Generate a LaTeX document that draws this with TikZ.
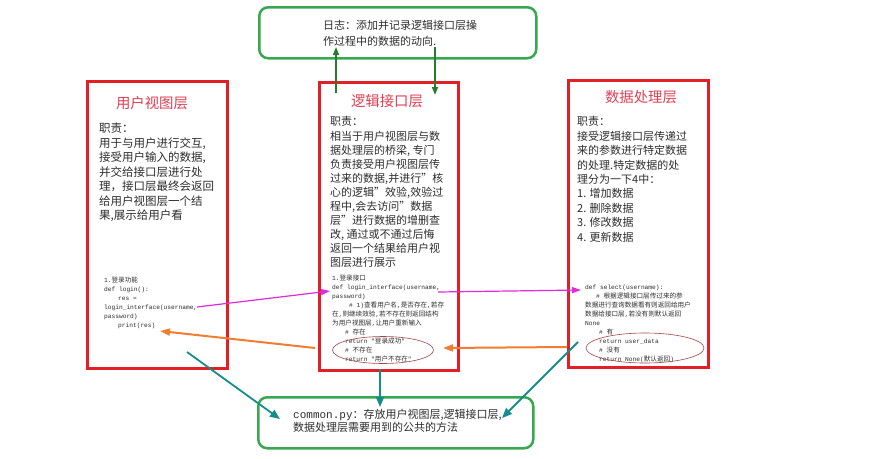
\documentclass[tikz,border=0pt]{standalone}
\usepackage{fontspec}
\setmainfont{Noto Sans CJK SC}
\newfontfamily\cjk{Noto Sans CJK SC}
\newfontfamily\mono{Liberation Mono}
\usetikzlibrary{arrows.meta,shapes.geometric}
\definecolor{boxred}{RGB}{226,30,38}
\definecolor{titlered}{RGB}{222,64,84}
\definecolor{boxgreen}{RGB}{56,168,80}
\definecolor{arrgreen}{RGB}{40,125,45}
\definecolor{mag}{RGB}{228,40,220}
\definecolor{orng}{RGB}{240,125,50}
\definecolor{tealc}{RGB}{22,140,140}
\definecolor{txt}{RGB}{45,45,45}
\definecolor{ellred}{RGB}{165,70,70}
\newcommand\zh[1]{{\cjk\fontsize{6.6}{9}\selectfont #1}}
\begin{document}
\begin{tikzpicture}[x=1pt,y=-1pt,
  redbox/.style={draw=boxred,line width=2.7pt,inner sep=0pt,anchor=north west},
  greenbox/.style={draw=boxgreen,line width=2.5pt,rounded corners=9pt,inner sep=0pt,anchor=north west},
  title/.style={text=titlered,font=\fontsize{14.4}{16}\selectfont,inner sep=0pt},
  body/.style={text=txt,align=left,inner sep=0pt,anchor=north west},
  code/.style={text=txt,align=left,inner sep=0pt,anchor=north west,font=\mono\fontsize{6.2}{9}\selectfont},
  ell/.style={draw=ellred,line width=0.6pt,ellipse},
  garr/.style={draw=arrgreen,line width=1.5pt,-{Triangle[length=8pt,width=6pt]}},
  marr/.style={draw=mag,line width=1.2pt,-{Triangle[length=9pt,width=6pt]}},
  oarr/.style={draw=orng,line width=2pt,-{Triangle[length=10pt,width=7pt]}},
  tarr/.style={draw=tealc,line width=1.8pt,-{Triangle[length=10pt,width=8pt]}}
]
\useasboundingbox[fill=white] (0,0) rectangle (888,458);

% boxes
\node[redbox,minimum width=140pt,minimum height=287pt] (uv) at (86,80) {};
\node[redbox,minimum width=139pt,minimum height=288pt] (lj) at (318,81) {};
\node[redbox,minimum width=140pt,minimum height=287pt] (sj) at (567,79) {};
\node[greenbox,minimum width=277pt,minimum height=51pt] (log) at (258,6) {};
\node[greenbox,minimum width=275pt,minimum height=51pt] (com) at (257,396) {};

% titles
\node[title] (uvt) at (152,103) {用户视图层};
\node[title] (ljt) at (387,101) {逻辑接口层};
\node[title] (sjt) at (641,97) {数据处理层};

% body texts
\node[body,font=\fontsize{11.5}{14.5}\selectfont] (uvb) at (99,123) {职责：\\用于与用户进行交互,\\接受用户输入的数据,\\并交给接口层进行处\\理，接口层最终会返回\\给用户视图层一个结\\果,展示给用户看};
\node[body,font=\fontsize{11}{14.1}\selectfont] (ljb) at (330,116.5) {职责：\\相当于用户视图层与数\\据处理层的桥梁, 专门\\负责接受用户视图层传\\过来的数据,并进行”核\\心的逻辑”效验,效验过\\程中,会去访问”数据\\层”进行数据的增删查\\改, 通过或不通过后悔\\返回一个结果给用户视\\图层进行展示};
\node[body,font=\fontsize{11}{14.4}\selectfont] (sjb) at (577,116.5) {职责：\\接受逻辑接口层传递过\\来的参数进行特定数据\\的处理.特定数据的处\\理分为一下4中：\\1. 增加数据\\2. 删除数据\\3. 修改数据\\4. 更新数据};

% code texts
\node[code] (uvc) at (104,277) {1.\zh{登录功能}\\def login():\\\hspace*{14pt}res =\\login\_interface(username,\\password)\\\hspace*{14pt}print(res)};
\node[code] (ljc) at (332,275) {1.\zh{登录接口}\\def login\_interface(username,\\password)\\\hspace*{17pt}\# 1)\zh{查看用户名},\zh{是否存在},\zh{若存}\\\zh{在},\zh{则继续效验},\zh{若不存在则返回结构}\\\zh{为用户视图层},\zh{让用户重新输入}\\\hspace*{13pt}\# \zh{存在}\\\hspace*{13pt}return "\zh{登录成功}"\\\hspace*{13pt}\# \zh{不存在}\\\hspace*{13pt}return "\zh{用户不存在}"};
\node[code] (sjc) at (585,284.5) {def select(username):\\\hspace*{11pt}\# \zh{根据逻辑接口层传过来的参}\\\zh{数据进行查询数据看有则返回给用户}\\\zh{数据给接口层},\zh{若没有则默认返回}\\None\\\hspace*{14pt}\# \zh{有}\\\hspace*{14pt}return user\_data\\\hspace*{14pt}\# \zh{没有}\\\hspace*{14pt}return None(\zh{默认返回})};

% ellipses
\node[ell,minimum width=101pt,minimum height=27pt,inner sep=0pt] (e1) at (383,350) {};
\node[ell,minimum width=118pt,minimum height=30pt,inner sep=0pt] (e2) at (645,348) {};

% log and common texts
\node[body,font=\fontsize{11}{15.7}\selectfont] (logt) at (323,20) {日志：添加并记录逻辑接口层操\\作过程中的数据的动向.};
\node[body,font=\fontsize{11}{13.4}\selectfont] (comt) at (293,409) {{\mono common.py}：存放用户视图层,逻辑接口层,\\数据处理层需要用到的公共的方法};

% connector endpoints
\coordinate (g1s) at (336,93);  \coordinate (g1e) at (336,47);
\coordinate (g2s) at (435,47);  \coordinate (g2e) at (435,95);
\coordinate (m1s) at (197,307); \coordinate (m1e) at (330,291);
\coordinate (m2s) at (438,292); \coordinate (m2e) at (581,290);
\coordinate (o1s) at (315,348); \coordinate (o1e) at (160,331);
\coordinate (o2s) at (567,347); \coordinate (o2e) at (443,348);
\coordinate (t1s) at (187,352); \coordinate (t1e) at (280,419);
\coordinate (t2s) at (380,369); \coordinate (t2e) at (380,407);
\coordinate (t3s) at (578,342); \coordinate (t3e) at (502,418);

\draw[garr] (g1s) -- (g1e);
\draw[garr] (g2s) -- (g2e);
\draw[marr] (m1s) -- (m1e);
\draw[marr] (m2s) -- (m2e);
\draw[oarr] (o1s) -- (o1e);
\draw[oarr] (o2s) -- (o2e);
\draw[tarr] (t1s) -- (t1e);
\draw[tarr] (t2s) -- (t2e);
\draw[tarr] (t3s) -- (t3e);
\end{tikzpicture}
\end{document}
